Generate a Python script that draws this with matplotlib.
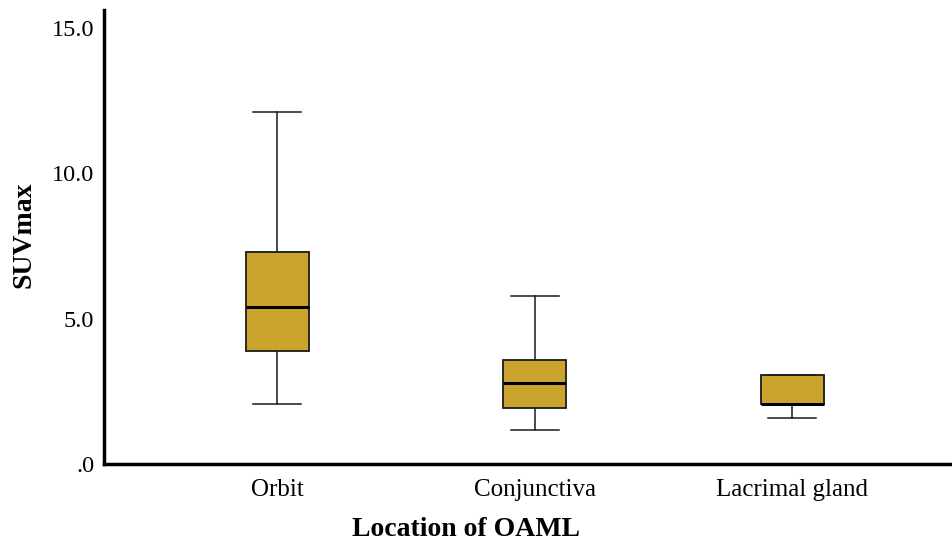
import matplotlib
matplotlib.use("Agg")
import matplotlib.pyplot as plt

categories = ["Orbit", "Conjunctiva", "Lacrimal gland"]
whislo = [2.06, 1.17, 1.58]
q1 = [3.89, 1.93, 2.06]
med = [5.40, 2.79, 2.08]
q3 = [7.29, 3.58, 3.06]
whishi = [12.11, 5.78, 3.06]
yticks = [0, 5, 10, 15]
yticklabels = [".0", "5.0", "10.0", "15.0"]

plt.rcParams['font.family'] = ['Liberation Serif', 'DejaVu Serif']

fig = plt.figure(figsize=(9.52, 5.43), dpi=100)
ax = fig.add_axes([0.109, 0.1455, 0.891, 0.836])

stats = []
for i, c in enumerate(categories):
    stats.append(dict(label=c, whislo=whislo[i], q1=q1[i], med=med[i], q3=q3[i], whishi=whishi[i], fliers=[]))

ax.bxp(stats, positions=[1, 2, 3], widths=0.245, patch_artist=True, showfliers=False,
       boxprops=dict(facecolor='#CBA42D', edgecolor='#1a1a1a', linewidth=1.3),
       medianprops=dict(color='black', linewidth=2.2),
       whiskerprops=dict(color='#1a1a1a', linewidth=1.1),
       capprops=dict(color='#1a1a1a', linewidth=1.1),
       capwidths=0.185)

ax.set_xlim(0.327, 3.62)
ax.set_ylim(0, 15.62)
ax.set_yticks(yticks)
ax.set_yticklabels(yticklabels)
ax.tick_params(axis='y', length=0, labelsize=17.5, pad=7)
ax.tick_params(axis='x', length=0, labelsize=18, pad=11)
for s in ['top', 'right']:
    ax.spines[s].set_visible(False)
for s in ['left', 'bottom']:
    ax.spines[s].set_linewidth(2.5)
ax.set_xlabel("Location of OAML", fontsize=20, fontweight='bold')
ax.xaxis.set_label_coords(0.427, -0.117)
ax.set_ylabel("SUVmax", fontsize=20, fontweight='bold')
ax.yaxis.set_label_coords(-0.079, 0.504)

fig.savefig("out.png", dpi=100)
